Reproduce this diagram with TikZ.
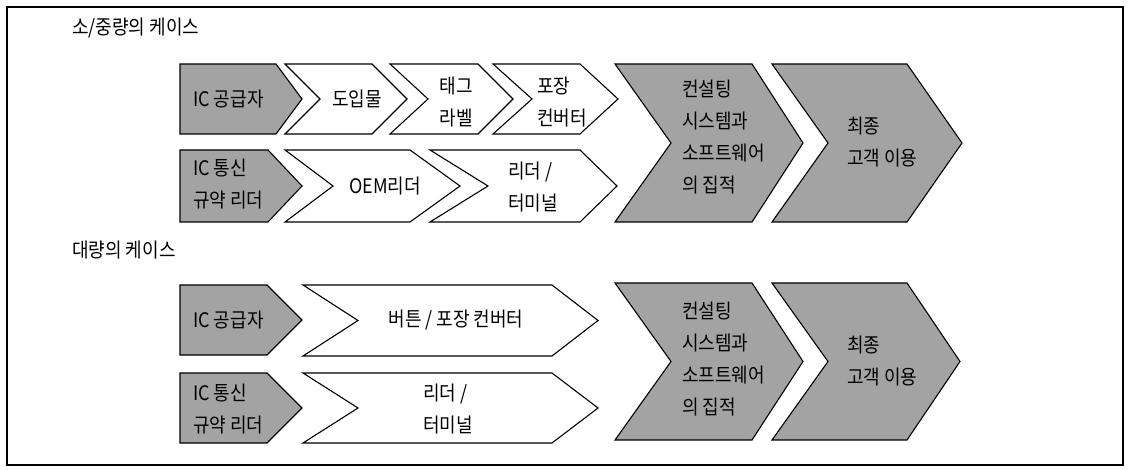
\documentclass[tikz,border=0pt]{standalone}
\usepackage{fontspec}
\setmainfont[FakeStretch=0.9]{Noto Sans CJK KR}
\begin{document}
\begin{tikzpicture}[x=1pt,y=-1pt,
  shp/.style={draw=black,line width=1.1pt,line join=miter},
  grayshp/.style={shp,fill=black!36},
  whiteshp/.style={shp,fill=white},
  txt/.style={inner sep=0pt,font=\fontsize{20}{32}\selectfont,align=left},
  ttl/.style={inner sep=0pt,anchor=west,font=\fontsize{20}{22}\selectfont}]
\useasboundingbox (0,0) rectangle (1129,470);
\draw[line width=1.2pt] (7,7) rectangle (1123,465);
% pentagon: #1 left, #2 shoulder, #3 tip, #4 top, #5 bottom
\newcommand\pent[6]{\path[#6] (#1,#4) -- (#2,#4) -- (#3,{(#4+#5)/2}) -- (#2,#5) -- (#1,#5) -- cycle;}
% chevron: #1 left, #2 notch, #3 shoulder, #4 tip, #5 top, #6 bottom
\newcommand\chev[7]{\path[#7] (#1,#5) -- (#3,#5) -- (#4,{(#5+#6)/2}) -- (#3,#6) -- (#1,#6) -- (#2,{(#5+#6)/2}) -- cycle;}

\node[ttl] (t1) at (72,28) {소/중량의 케이스};
\node[ttl] (t2) at (72,250) {대량의 케이스};

% ---- top section
\pent{180}{276}{302}{64}{134}{grayshp}
\pent{180}{268}{302}{150}{222}{grayshp}
\chev{285}{320}{372}{407}{64}{134}{whiteshp}
\chev{390}{428}{478}{513}{64}{134}{whiteshp}
\chev{493}{532}{580}{618}{64}{134}{whiteshp}
\chev{285}{333}{410}{460}{150}{222}{whiteshp}
\chev{430}{488}{580}{617}{150}{222}{whiteshp}
\chev{615}{671}{752}{803}{64}{222}{grayshp}
\chev{772}{828}{907}{962}{64}{222}{grayshp}

\node[txt,anchor=west] (a1) at (193,99) {IC 공급자};
\node[txt,anchor=west] (a2) at (193,184) {IC 통신\\규약 리더};
\node[txt] (b1) at (357,99) {도입물};
\node[txt] (b2) at (456,102) {태그\\라벨};
\node[txt,anchor=west] (b3) at (537,102) {포장\\컨버터};
\node[txt] (b4) at (385,186) {OEM리더};
\node[txt,anchor=west] (b5) at (508,187) {리더 /\\터미널};
\node[txt,anchor=west] (c1) at (682,137) {컨설팅\\시스템과\\소프트웨어\\의 집적};
\node[txt,anchor=west] (d1) at (847,142) {최종\\고객 이용};

% ---- bottom section
\pent{180}{267}{302}{285}{355}{grayshp}
\pent{180}{267}{302}{373}{443}{grayshp}
\chev{303}{358}{552}{598}{285}{356}{whiteshp}
\chev{303}{358}{552}{598}{373}{443}{whiteshp}
\chev{615}{671}{752}{803}{283}{440}{grayshp}
\chev{772}{828}{907}{960}{283}{440}{grayshp}

\node[txt,anchor=west] (e1) at (193,320) {IC 공급자};
\node[txt,anchor=west] (e2) at (193,409) {IC 통신\\규약 리더};
\node[txt] (f1) at (456,320) {버튼 / 포장 컨버터};
\node[txt,anchor=west] (f2) at (423,409) {리더 /\\터미널};
\node[txt,anchor=west] (g1) at (682,359) {컨설팅\\시스템과\\소프트웨어\\의 집적};
\node[txt,anchor=west] (h1) at (847,361) {최종\\고객 이용};
\end{tikzpicture}
\end{document}
